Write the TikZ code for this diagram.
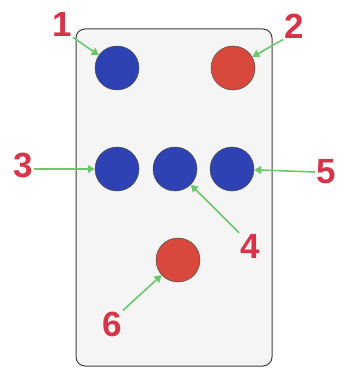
\documentclass[tikz,border=0pt]{standalone}
\usepackage{fontspec}
\setsansfont{Liberation Sans}
\usetikzlibrary{arrows.meta}
\definecolor{dotblue}{HTML}{2E42B4}
\definecolor{dotred}{HTML}{D8483C}
\definecolor{labred}{HTML}{D63448}
\definecolor{arrgreen}{HTML}{6CC86C}
\begin{document}
\begin{tikzpicture}[x=1pt,y=-1pt]
\tikzset{
  panel/.style={draw=black!75,line width=1pt,rounded corners=9pt,fill=white!96!black},
  bluedot/.style={circle,draw=black!70,line width=0.5pt,fill=dotblue,minimum size=44pt,inner sep=0pt},
  reddot/.style={circle,draw=black!70,line width=0.5pt,fill=dotred,minimum size=44pt,inner sep=0pt},
  numlabel/.style={text=labred,font=\sffamily\bfseries\fontsize{35}{35}\selectfont,inner sep=1pt},
  pointer/.style={draw=arrgreen,line width=1.6pt,-{Triangle[length=7pt,width=8pt]}}
}
\useasboundingbox (0,0) rectangle (348,369);
\draw[panel] (76,29) rectangle (272,366);
\node[bluedot] (n_d1) at (117,68) {};
\node[reddot] (n_d2) at (233,68) {};
\node[bluedot] (n_d3) at (117,169) {};
\node[bluedot] (n_d4) at (175,169) {};
\node[bluedot] (n_d5) at (232,169) {};
\node[reddot] (n_d6) at (178,260) {};
\node[numlabel] (n_l1) at (62,24) {1};
\node[numlabel] (n_l2) at (294,26) {2};
\node[numlabel] (n_l3) at (23,165) {3};
\node[numlabel] (n_l4) at (250,246) {4};
\node[numlabel] (n_l5) at (326,172) {5};
\node[numlabel] (n_l6) at (112,324) {6};
\draw[pointer] (n_l1.south east) -- (n_d1);
\draw[pointer] (n_l2.south west) -- (n_d2);
\draw[pointer] (n_l3.east |- n_d3.west) -- (n_d3.west);
\draw[pointer] (n_l4.north west) -- (n_d4);
\draw[pointer] (n_l5.west) -- (n_d5);
\draw[pointer] (n_l6.north east) -- (n_d6);
\end{tikzpicture}
\end{document}
